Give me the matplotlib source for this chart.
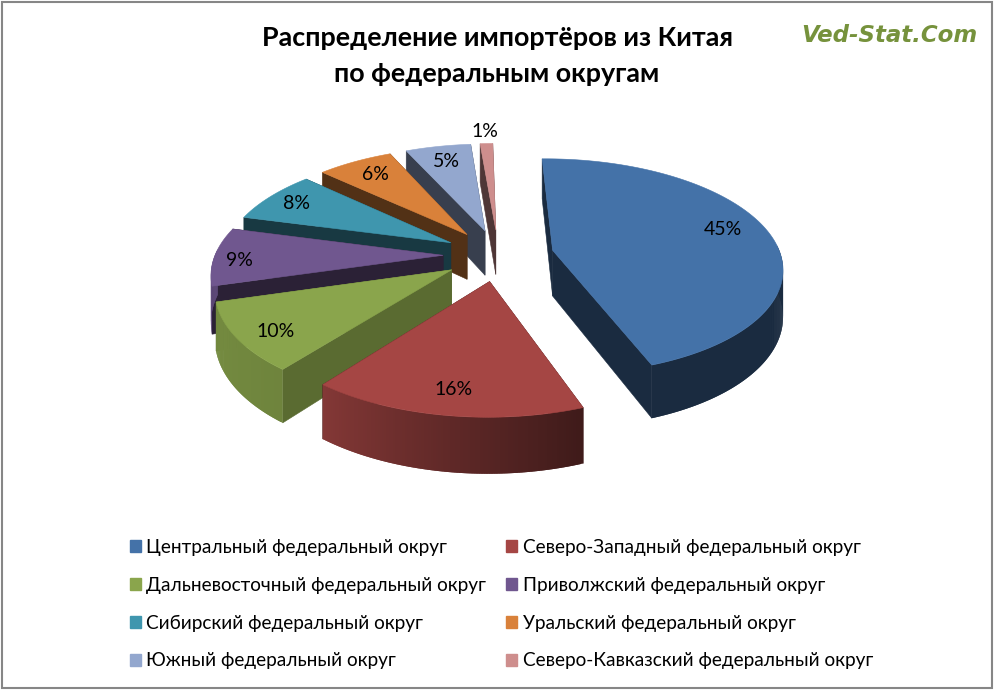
import numpy as np
from matplotlib import pyplot as plt
from matplotlib.patches import Rectangle, Patch

regions = ['Центральный федеральный округ', 'Северо-Западный федеральный округ',
           'Дальневосточный федеральный округ', 'Приволжский федеральный округ',
           'Сибирский федеральный округ', 'Уральский федеральный округ',
           'Южный федеральный округ', 'Северо-Кавказский федеральный округ']
# labels show whole percents, the slices themselves read a bit finer than that
shares = [44.7, 16.1, 10.0, 8.6, 7.8, 6.3, 5.45, 1.05]
colors = ['#4472A8', '#A54644', '#8AA54C', '#70578F', '#3F96AE', '#D9813A', '#93A7CE', '#CE8E8D']
title = 'Распределение импортёров из Китая\nпо федеральным округам'
watermark = 'Ved-Stat.Com'

# how the fake 3d pie is set up, everything in pixels of the 995x690 picture
CX, CY = 498.5, 255
RX, RY = 228, 106.5
PERSP = 0.15
DEPTH = 46
EXPLODE = 0.243
FIRST_ANGLE = -1
CUT_SHADE = [0.38, 0.38, 0.65, 0.38, 0.38, 0.38, 0.38, 0.38]
LABEL_R = [0.785, 0.82, 0.83, 0.89, 0.85, 0.80, 0.79, 1.17]
LABEL_DY = [-6, 2, 6, 4, 1, 0, -1, 1]

plt.rcParams['font.family'] = ['Lato', 'Open Sans', 'DejaVu Sans']


def project(u, v, z=0.0):
    # u to the right, v to the back, z is 0 on top and 1 at the bottom of the wall
    w = 1 + PERSP * v
    return CX + RX * u / w, CY + (-RY * v + DEPTH * z) / w


def darker(color, k):
    rgb = np.array(plt.matplotlib.colors.to_rgb(color))
    return tuple(rgb * k)


fig = plt.figure(figsize=(9.95, 6.9), dpi=100)
ax = fig.add_axes([0, 0, 1, 1])
ax.set_xlim(0, 995)
ax.set_ylim(690, 0)
ax.set_axis_off()

ax.add_patch(Rectangle((2, 2), 990, 686, facecolor='white', edgecolor='#868686', linewidth=1.5))

edges = FIRST_ANGLE + 360 * np.cumsum([0] + shares) / sum(shares)
mids = (edges[:-1] + edges[1:]) / 2
apex_u = EXPLODE * np.sin(np.radians(mids))
apex_v = EXPLODE * np.cos(np.radians(mids))

# back slices first so the front ones cover them
for i in np.argsort(-apex_v):
    a0, a1 = edges[i], edges[i + 1]
    au, av = apex_u[i], apex_v[i]
    angles = np.linspace(a0, a1, max(int(a1 - a0) * 2, 6))
    u = au + np.sin(np.radians(angles))
    v = av + np.cos(np.radians(angles))

    # cut walls
    for eu, ev in [(u[0], v[0]), (u[-1], v[-1])]:
        xs, ys = zip(project(au, av), project(eu, ev), project(eu, ev, 1), project(au, av, 1))
        c = darker(colors[i], CUT_SHADE[i])
        ax.fill(xs, ys, facecolor=c, edgecolor=c, linewidth=0.4)

    # outer wall, one strip per step so it can carry the shading
    # each strip reaches over the next one, that hides the seams
    for j in range(len(angles) - 1):
        mid = (angles[j] + angles[j + 1]) / 2
        if np.cos(np.radians(mid)) > 0.05:
            continue
        k = min(j + 2, len(angles) - 1)
        c = darker(colors[i], np.interp(mid, [100, 160, 218, 255], [0.38, 0.38, 0.8, 0.85]))
        xs, ys = zip(project(u[j], v[j]), project(u[k], v[k]),
                     project(u[k], v[k], 1), project(u[j], v[j], 1))
        ax.fill(xs, ys, facecolor=c, edgecolor='none')

    # top
    tx, ty = project(np.r_[au, u], np.r_[av, v])
    ax.fill(tx, ty, facecolor=colors[i], edgecolor=colors[i], linewidth=0.4)

# labels go on top of everything
for i, share in enumerate(shares):
    lu = apex_u[i] + LABEL_R[i] * np.sin(np.radians(mids[i]))
    lv = apex_v[i] + LABEL_R[i] * np.cos(np.radians(mids[i]))
    lx, ly = project(lu, lv)
    ax.text(lx, ly + LABEL_DY[i], f'{round(share)}%', fontsize=14, color='black', ha='center', va='center')

ax.text(497, 56, title, fontsize=19.4, fontweight='bold', color='black',
        ha='center', va='center', linespacing=1.6)
ax.text(889, 36, watermark, fontsize=16.5, fontweight='bold', style='italic',
        color='#76923C', ha='center', va='center', family='DejaVu Sans')

# legend is filled by rows in the original, matplotlib fills by columns
handles = [Patch(facecolor=c, edgecolor=c, label=r) for c, r in zip(colors, regions)]
order = [0, 2, 4, 6, 1, 3, 5, 7]
ax.legend([handles[k] for k in order], [regions[k] for k in order], ncol=2,
          loc='upper left', bbox_to_anchor=(113, 522), bbox_transform=ax.transData,
          frameon=False, fontsize=13.7, handlelength=0.58, handleheight=0.58,
          handletextpad=0.28, labelspacing=1.09, columnspacing=1.04)

fig.savefig('out.png', dpi=100)
